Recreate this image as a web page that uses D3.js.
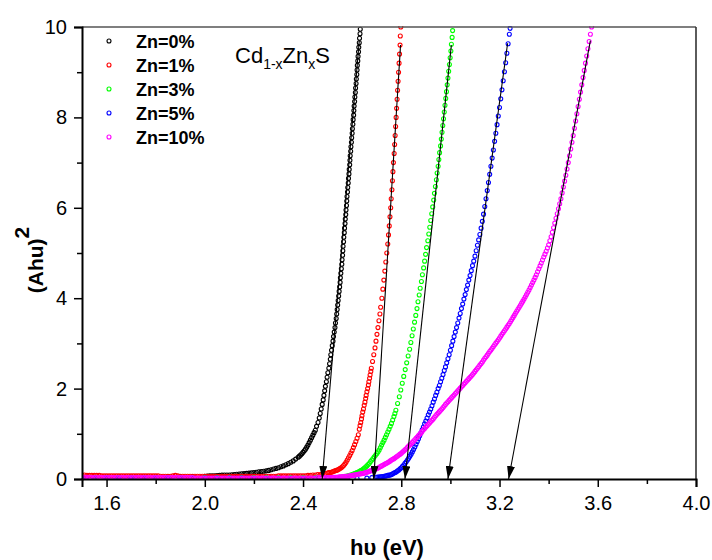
<!DOCTYPE html>
<html>
<head>
<meta charset="utf-8">
<script src="https://cdn.jsdelivr.net/npm/d3@7"></script>
<style>
  html, body { margin: 0; padding: 0; background: #fff; }
  svg { display: block; }
  text { font-family: "Liberation Sans", Arial, sans-serif; }
</style>
</head>
<body>
<svg id="chart" width="712" height="560"></svg>
<script>
// Tauc plot of Cd(1-x)Zn(x)S films: (A h nu)^2 against photon energy h nu (eV)
const seriesNames = ["Zn=0%", "Zn=1%", "Zn=3%", "Zn=5%", "Zn=10%"];
const seriesColors = ["#000000", "#ff0000", "#00ff00", "#0000ff", "#ff00ff"];

const xMajorTicks = [1.6, 2.0, 2.4, 2.8, 3.2, 3.6, 4.0];
const xMinorTicks = [1.8, 2.2, 2.6, 3.0, 3.4, 3.8];
const yMajorTicks = [0, 2, 4, 6, 8, 10];
const yMinorTicks = [1, 3, 5, 7, 9];

// [h nu (eV), (A h nu)^2]
const zn0 = [[1.50,.04],[1.55,.04],[1.60,.04],[1.65,.04],[1.70,.04],[1.75,.04],[1.80,.04],[1.85,.05],[1.90,.05],[1.95,.05],
[2.00,.06],[2.01,.065],[2.02,.07],[2.03,.07],[2.04,.07],[2.05,.075],[2.06,.08],[2.07,.085],[2.08,.09],[2.09,.09],[2.10,.09],
[2.11,.095],[2.12,.10],[2.13,.105],[2.14,.11],[2.15,.115],[2.16,.12],[2.17,.125],[2.18,.13],[2.19,.135],[2.20,.14],
[2.21,.15],[2.22,.16],[2.23,.165],[2.24,.17],[2.25,.18],[2.26,.19],[2.27,.205],[2.28,.22],[2.29,.235],[2.30,.25],
[2.31,.27],[2.32,.29],[2.33,.315],[2.34,.34],[2.35,.37],[2.36,.40],[2.37,.44],[2.38,.48],[2.385,.505],[2.39,.53],
[2.395,.56],[2.40,.59],[2.405,.625],[2.41,.66],[2.415,.705],[2.42,.75],[2.425,.805],[2.43,.86],[2.435,.915],[2.44,.97],
[2.445,1.025],[2.45,1.08],[2.455,1.165],[2.461,1.25],[2.466,1.35],[2.470,1.45],[2.474,1.55],[2.478,1.65],
[2.482,1.75],[2.485,1.85],[2.488,1.95],[2.491,2.05],[2.495,2.15],[2.498,2.25],[2.501,2.35],[2.505,2.45],[2.508,2.55],
[2.511,2.65],[2.513,2.75],[2.516,2.85],[2.519,2.95],[2.522,3.05],[2.524,3.15],[2.527,3.25],[2.530,3.35],[2.532,3.45],
[2.535,3.55],[2.537,3.65],[2.539,3.75],[2.541,3.85],[2.543,3.95],[2.545,4.05],[2.547,4.15],[2.549,4.25],[2.551,4.35],
[2.552,4.45],[2.554,4.55],[2.556,4.65],[2.558,4.75],[2.559,4.85],[2.561,4.95],[2.562,5.05],[2.563,5.15],[2.565,5.25],
[2.566,5.35],[2.568,5.45],[2.569,5.55],[2.571,5.65],[2.572,5.75],[2.574,5.85],[2.575,5.95],[2.577,6.05],[2.578,6.15],
[2.579,6.25],[2.581,6.35],[2.582,6.45],[2.584,6.55],[2.585,6.65],[2.587,6.75],[2.588,6.85],[2.590,6.95],[2.591,7.05],
[2.592,7.15],[2.594,7.25],[2.595,7.35],[2.597,7.45],[2.598,7.55],[2.600,7.65],[2.601,7.75],[2.603,7.85],[2.604,7.95],
[2.606,8.05],[2.607,8.15],[2.608,8.25],[2.610,8.35],[2.611,8.45],[2.613,8.55],[2.614,8.65],[2.616,8.75],[2.617,8.85],
[2.619,8.95],[2.620,9.05],[2.621,9.15],[2.623,9.25],[2.624,9.35],[2.626,9.45],[2.627,9.55],[2.629,9.65],[2.630,9.75],
[2.632,9.85],[2.633,9.95]];

const zn1 = [[1.50,.09],[1.51,.09],[1.52,.08],[1.53,.08],[1.54,.08],[1.55,.08],[1.56,.08],[1.57,.08],[1.58,.07],[1.59,.07],
[1.60,.07],[1.61,.07],[1.62,.07],[1.63,.07],[1.64,.07],[1.65,.07],[1.66,.07],[1.67,.07],[1.68,.07],[1.69,.07],[1.70,.07],
[1.71,.07],[1.72,.07],[1.73,.07],[1.74,.07],[1.75,.07],[1.76,.07],[1.77,.07],[1.78,.07],[1.79,.07],[1.80,.07],[1.81,.07],
[1.82,.06],[1.83,.06],[1.84,.06],[1.85,.06],[1.86,.06],[1.87,.07],[1.88,.08],[1.89,.07],[1.90,.06],[1.91,.06],[1.92,.06],
[1.93,.06],[1.94,.06],[1.95,.06],[1.96,.06],[1.97,.06],[1.98,.06],[1.99,.06],[2.00,.06],[2.01,.06],[2.02,.06],[2.03,.06],
[2.04,.06],[2.05,.06],[2.06,.06],[2.07,.06],[2.08,.06],[2.09,.06],[2.10,.06],[2.11,.06],[2.12,.06],[2.13,.06],[2.14,.06],
[2.15,.06],[2.16,.06],[2.17,.06],[2.18,.06],[2.19,.06],[2.20,.06],[2.21,.06],[2.22,.06],[2.23,.06],[2.24,.06],[2.25,.06],
[2.26,.06],[2.27,.06],[2.28,.06],[2.29,.06],[2.30,.07],[2.31,.07],[2.32,.07],[2.33,.07],[2.34,.07],[2.35,.07],[2.36,.07],
[2.37,.07],[2.38,.07],[2.39,.07],[2.40,.07],[2.41,.07],[2.42,.08],[2.43,.08],[2.44,.09],[2.45,.09],[2.46,.10],[2.47,.10],
[2.48,.11],[2.49,.12],[2.50,.13],[2.505,.14],[2.51,.145],[2.515,.15],[2.52,.16],[2.525,.17],[2.53,.18],[2.535,.19],
[2.54,.20],[2.545,.215],[2.55,.23],[2.555,.25],[2.56,.27],[2.565,.30],[2.57,.33],[2.575,.37],[2.58,.42],[2.585,.47],
[2.59,.52],[2.595,.575],[2.60,.63],[2.605,.695],[2.61,.76],[2.615,.83],[2.62,.90],[2.625,.98],[2.629,1.10],[2.632,1.18],
[2.635,1.25],[2.638,1.33],[2.640,1.40],[2.643,1.48],[2.646,1.55],[2.649,1.63],[2.652,1.70],[2.655,1.78],[2.657,1.85],
[2.660,1.93],[2.663,2.00],[2.666,2.08],[2.668,2.15],[2.671,2.23],[2.673,2.30],[2.676,2.38],[2.678,2.45],[2.683,2.60],
[2.688,2.75],[2.693,2.90],[2.697,3.05],[2.701,3.20],[2.705,3.35],[2.709,3.50],[2.713,3.65],[2.716,3.80],[2.721,4.00],
[2.725,4.20],[2.729,4.40],[2.733,4.60],[2.737,4.80],[2.741,5.00],[2.745,5.20],[2.748,5.40],[2.751,5.60],[2.754,5.80],
[2.757,6.00],[2.759,6.20],[2.762,6.40],[2.764,6.60],[2.766,6.80],[2.768,7.00],[2.771,7.20],[2.773,7.40],[2.775,7.60],
[2.777,7.80],[2.779,8.00],[2.781,8.20],[2.783,8.40],[2.785,8.60],[2.787,8.80],[2.789,9.00],[2.791,9.20],[2.793,9.40],
[2.795,9.60],[2.796,9.80],[2.798,10.0]];

const zn3 = [[1.50,.03],[1.55,.03],[1.60,.03],[1.65,.03],[1.70,.03],[1.75,.03],[1.80,.03],[1.85,.03],[1.90,.03],[1.95,.03],
[2.00,.03],[2.05,.03],[2.10,.03],[2.15,.03],[2.20,.03],[2.25,.03],[2.30,.03],[2.35,.03],[2.40,.03],[2.45,.03],[2.50,.03],
[2.55,.04],[2.555,.04],[2.56,.045],[2.565,.05],[2.57,.05],[2.575,.06],[2.58,.065],[2.585,.07],[2.59,.08],[2.595,.09],
[2.60,.10],[2.605,.11],[2.61,.12],[2.615,.13],[2.62,.14],[2.625,.155],[2.63,.17],[2.635,.185],[2.64,.20],[2.645,.22],
[2.65,.24],[2.655,.265],[2.66,.29],[2.665,.32],[2.67,.35],[2.675,.385],[2.68,.42],[2.685,.455],[2.69,.49],[2.695,.525],
[2.70,.56],[2.705,.60],[2.71,.64],[2.715,.695],[2.72,.75],[2.725,.805],[2.73,.86],[2.735,.92],[2.74,.98],[2.745,1.04],
[2.75,1.10],[2.755,1.165],[2.76,1.23],[2.765,1.305],[2.77,1.38],[2.774,1.45],[2.778,1.52],[2.785,1.67],[2.792,1.82],
[2.798,1.97],[2.804,2.12],[2.810,2.27],[2.816,2.42],[2.822,2.57],[2.828,2.72],[2.834,2.87],[2.839,3.02],[2.844,3.17],
[2.849,3.32],[2.854,3.47],[2.859,3.62],[2.864,3.77],[2.868,3.92],[2.873,4.07],[2.877,4.22],[2.882,4.37],[2.886,4.52],
[2.891,4.67],[2.895,4.82],[2.899,4.97],[2.903,5.12],[2.908,5.27],[2.912,5.42],[2.916,5.57],[2.920,5.72],[2.924,5.87],
[2.928,6.02],[2.932,6.17],[2.935,6.32],[2.939,6.47],[2.943,6.62],[2.946,6.77],[2.950,6.92],[2.953,7.07],[2.956,7.22],
[2.960,7.37],[2.963,7.52],[2.966,7.67],[2.969,7.82],[2.972,7.97],[2.975,8.12],[2.978,8.27],[2.981,8.42],[2.984,8.57],
[2.987,8.72],[2.990,8.87],[2.993,9.02],[2.996,9.17],[2.999,9.32],[3.002,9.47],[3.004,9.62],[3.007,9.77],[3.009,9.92]];

const zn5 = [[1.50,.02],[1.55,.02],[1.60,.02],[1.65,.02],[1.70,.02],[1.75,.02],[1.80,.02],[1.85,.02],[1.90,.02],[1.95,.02],
[2.00,.02],[2.05,.02],[2.10,.02],[2.15,.02],[2.20,.01],[2.25,.01],[2.30,.01],[2.35,.01],[2.40,.01],[2.45,.01],[2.50,.01],
[2.55,.01],[2.58,.01],[2.62,.01],[2.66,.02],[2.68,.03],[2.70,.04],[2.705,.045],[2.71,.045],[2.715,.05],[2.72,.05],
[2.725,.055],[2.73,.06],[2.735,.065],[2.74,.07],[2.745,.08],[2.75,.085],[2.755,.09],[2.76,.10],[2.765,.115],[2.77,.13],
[2.775,.145],[2.78,.16],[2.785,.18],[2.79,.20],[2.795,.225],[2.80,.25],[2.805,.28],[2.81,.31],[2.815,.345],[2.82,.38],
[2.825,.42],[2.83,.46],[2.835,.505],[2.84,.55],[2.845,.60],[2.85,.65],[2.855,.71],[2.86,.77],[2.865,.83],[2.87,.89],
[2.875,.955],[2.88,1.02],[2.885,1.09],[2.89,1.15],[2.895,1.22],[2.90,1.28],[2.905,1.35],[2.91,1.42],[2.915,1.48],
[2.92,1.55],[2.925,1.62],[2.93,1.70],[2.935,1.77],[2.94,1.85],[2.945,1.92],[2.95,2.00],[2.955,2.07],[2.96,2.15],
[2.965,2.23],[2.97,2.31],[2.975,2.40],[2.98,2.48],[2.985,2.57],[2.99,2.66],[2.995,2.75],[3.00,2.85],[3.005,2.95],
[3.01,3.05],[3.015,3.15],[3.02,3.25],[3.025,3.35],[3.03,3.45],[3.035,3.56],[3.04,3.66],[3.045,3.77],[3.05,3.87],
[3.055,3.98],[3.06,4.08],[3.065,4.19],[3.07,4.29],[3.075,4.40],[3.08,4.50],[3.085,4.61],[3.09,4.72],[3.095,4.82],
[3.10,4.93],[3.105,5.05],[3.11,5.17],[3.115,5.29],[3.12,5.41],[3.125,5.55],[3.13,5.70],[3.135,5.86],[3.14,6.03],
[3.145,6.20],[3.15,6.38],[3.155,6.56],[3.16,6.74],[3.165,6.92],[3.17,7.10],[3.175,7.28],[3.18,7.47],[3.185,7.65],
[3.19,7.84],[3.195,8.03],[3.20,8.22],[3.205,8.41],[3.21,8.61],[3.215,8.81],[3.22,9.01],[3.225,9.21],[3.23,9.42],
[3.235,9.63],[3.24,9.84],[3.243,9.97]];

const zn10 = [[1.50,.04],[1.51,.04],[1.52,.04],[1.53,.03],[1.54,.03],[1.55,.03],[1.56,.03],[1.57,.03],[1.58,.03],[1.59,.03],
[1.60,.03],[1.61,.03],[1.62,.03],[1.63,.03],[1.64,.03],[1.65,.03],[1.66,.03],[1.67,.03],[1.68,.03],[1.69,.03],[1.70,.03],
[1.71,.03],[1.72,.03],[1.73,.03],[1.74,.03],[1.75,.03],[1.76,.03],[1.77,.03],[1.78,.03],[1.79,.03],[1.80,.03],[1.81,.03],
[1.82,.03],[1.83,.03],[1.84,.03],[1.85,.03],[1.86,.03],[1.87,.03],[1.88,.03],[1.89,.03],[1.90,.03],[1.91,.03],[1.92,.03],
[1.93,.03],[1.94,.03],[1.95,.03],[1.96,.02],[1.97,.02],[1.98,.02],[1.99,.02],[2.00,.02],[2.01,.02],[2.02,.02],[2.03,.02],
[2.04,.02],[2.05,.02],[2.06,.02],[2.07,.02],[2.08,.02],[2.09,.02],[2.10,.02],[2.11,.02],[2.12,.02],[2.13,.02],[2.14,.02],
[2.15,.02],[2.16,.02],[2.17,.02],[2.18,.02],[2.19,.02],[2.20,.02],[2.21,.02],[2.22,.02],[2.23,.02],[2.24,.02],[2.25,.02],
[2.26,.02],[2.27,.02],[2.28,.02],[2.29,.02],[2.30,.02],[2.31,.02],[2.32,.02],[2.33,.02],[2.34,.02],[2.35,.02],[2.36,.02],
[2.37,.02],[2.38,.02],[2.39,.02],[2.40,.02],[2.41,.02],[2.42,.02],[2.43,.02],[2.44,.02],[2.45,.02],[2.46,.03],[2.47,.03],
[2.48,.03],[2.49,.03],[2.50,.03],[2.505,.03],[2.51,.03],[2.515,.03],[2.52,.03],[2.525,.035],[2.53,.04],[2.535,.04],
[2.54,.04],[2.545,.045],[2.55,.05],[2.555,.05],[2.56,.05],[2.565,.055],[2.57,.06],[2.575,.06],[2.58,.06],[2.585,.065],
[2.59,.07],[2.595,.075],[2.60,.08],[2.605,.085],[2.61,.09],[2.615,.095],[2.62,.10],[2.625,.105],[2.63,.11],[2.635,.115],
[2.64,.12],[2.645,.125],[2.65,.13],[2.655,.14],[2.66,.15],[2.665,.16],[2.67,.17],[2.675,.18],[2.68,.19],[2.685,.20],
[2.69,.21],[2.695,.22],[2.70,.23],[2.705,.245],[2.71,.26],[2.715,.275],[2.72,.29],[2.725,.305],[2.73,.32],[2.735,.335],
[2.74,.35],[2.745,.365],[2.75,.38],[2.755,.40],[2.76,.42],[2.765,.435],[2.77,.45],[2.775,.47],[2.78,.49],[2.785,.51],
[2.79,.53],[2.795,.55],[2.80,.57],[2.805,.595],[2.81,.62],[2.815,.645],[2.82,.67],[2.825,.70],[2.83,.73],[2.835,.755],
[2.84,.78],[2.845,.81],[2.85,.84],[2.855,.87],[2.86,.90],[2.865,.93],[2.87,.96],[2.875,.99],[2.88,1.02],[2.885,1.055],
[2.89,1.09],[2.895,1.12],[2.90,1.15],[2.905,1.18],[2.91,1.21],[2.915,1.24],[2.92,1.27],[2.925,1.30],[2.93,1.33],
[2.935,1.365],[2.94,1.40],[2.945,1.43],[2.95,1.46],[2.955,1.49],[2.96,1.52],[2.965,1.55],[2.97,1.58],[2.975,1.615],
[2.98,1.65],[2.985,1.68],[2.99,1.71],[2.995,1.74],[3.00,1.77],[3.005,1.80],[3.01,1.83],[3.015,1.86],[3.02,1.89],
[3.025,1.92],[3.03,1.95],[3.035,1.98],[3.04,2.01],[3.045,2.04],[3.05,2.07],[3.055,2.10],[3.06,2.13],[3.065,2.16],
[3.07,2.19],[3.075,2.22],[3.08,2.25],[3.085,2.28],[3.09,2.31],[3.095,2.345],[3.10,2.38],[3.105,2.415],[3.11,2.45],
[3.115,2.485],[3.12,2.52],[3.125,2.555],[3.13,2.59],[3.135,2.63],[3.14,2.67],[3.145,2.705],[3.15,2.74],[3.155,2.78],
[3.16,2.82],[3.165,2.855],[3.17,2.89],[3.175,2.93],[3.18,2.97],[3.185,3.005],[3.19,3.04],[3.195,3.08],[3.20,3.12],
[3.205,3.16],[3.21,3.20],[3.215,3.24],[3.22,3.28],[3.225,3.32],[3.23,3.36],[3.235,3.40],[3.24,3.44],[3.245,3.485],
[3.25,3.53],[3.255,3.575],[3.26,3.62],[3.265,3.665],[3.27,3.71],[3.275,3.755],[3.28,3.80],[3.285,3.845],[3.29,3.89],
[3.295,3.935],[3.30,3.98],[3.305,4.03],[3.31,4.08],[3.315,4.13],[3.32,4.18],[3.325,4.235],[3.33,4.29],[3.335,4.345],
[3.34,4.40],[3.345,4.46],[3.35,4.52],[3.355,4.585],[3.36,4.65],[3.365,4.715],[3.37,4.78],[3.375,4.845],[3.38,4.91],
[3.385,4.975],[3.39,5.04],[3.395,5.11],[3.40,5.18],[3.405,5.27],[3.41,5.36],[3.415,5.46],[3.42,5.56],[3.425,5.66],
[3.43,5.77],[3.435,5.87],[3.44,5.98],[3.445,6.09],[3.45,6.20],[3.455,6.33],[3.46,6.46],[3.465,6.59],[3.47,6.72],
[3.475,6.86],[3.48,7.00],[3.485,7.15],[3.49,7.30],[3.495,7.45],[3.50,7.60],[3.505,7.76],[3.51,7.92],[3.515,8.08],
[3.52,8.24],[3.525,8.40],[3.53,8.56],[3.535,8.72],[3.54,8.88],[3.545,9.04],[3.55,9.20],[3.555,9.36],[3.56,9.52],
[3.565,9.68],[3.57,9.84],[3.575,10.0]];

// Linear fits extrapolated to the energy axis (band gap intercepts)
const gapIntercepts = [2.478, 2.688, 2.815, 2.990, 3.237];
const fitTopEnergy = [2.629, 2.797, 3.004, 3.233, 3.570];
const fitTopValue = [9.7, 9.6, 9.6, 9.64, 9.7];

const allSeries = [zn0, zn1, zn3, zn5, zn10];

const W = 712, H = 560;
const margin = { left: 82, right: 16, top: 27, bottom: 81 };
const svg = d3.select("#chart");

const x = d3.scaleLinear().domain([1.5, 4.0]).range([margin.left, W - margin.right]);
const y = d3.scaleLinear().domain([0, 10]).range([H - margin.bottom, margin.top]);

const x0 = x.range()[0], x1 = x.range()[1];
const y0 = y.range()[0], y1 = y.range()[1];

const defs = svg.append("defs");
defs.append("clipPath").attr("id", "plotClip")
  .append("rect").attr("x", x0).attr("y", y1 - 1).attr("width", x1 - x0).attr("height", y0 - y1 + 1);

defs.append("marker")
  .attr("id", "arrowHead")
  .attr("viewBox", "0 0 13 8")
  .attr("refX", 13).attr("refY", 4)
  .attr("markerWidth", 13).attr("markerHeight", 8)
  .attr("markerUnits", "userSpaceOnUse")
  .attr("orient", "auto")
  .append("path").attr("d", "M0,0 L13,4 L0,8 Z").attr("fill", "#000");

// data points
const plot = svg.append("g").attr("clip-path", "url(#plotClip)");
allSeries.forEach((pts, i) => {
  plot.append("g").selectAll("circle").data(pts).join("circle")
    .attr("cx", d => x(d[0]))
    .attr("cy", d => y(d[1]))
    .attr("r", 2)
    .attr("fill", "none")
    .attr("stroke", seriesColors[i])
    .attr("stroke-width", 1.1);
});

// tangent lines ending in arrows at the intercepts
const fits = svg.append("g");
gapIntercepts.forEach((e0, i) => {
  fits.append("line")
    .attr("x1", x(fitTopEnergy[i])).attr("y1", y(fitTopValue[i]))
    .attr("x2", x(e0)).attr("y2", y(0))
    .attr("stroke", "#000").attr("stroke-width", 1.1)
    .attr("marker-end", "url(#arrowHead)");
});

// frame: top and right borders
svg.append("line").attr("x1", x0).attr("x2", x1).attr("y1", y1).attr("y2", y1)
  .attr("stroke", "#555").attr("stroke-width", 1.6);
svg.append("line").attr("x1", x1).attr("x2", x1).attr("y1", y1).attr("y2", y0)
  .attr("stroke", "#333").attr("stroke-width", 1.6);

// axes
const fontTick = 20;
svg.append("g").attr("transform", `translate(0,${y0})`)
  .call(d3.axisBottom(x).tickValues(xMajorTicks).tickFormat(d3.format(".1f")).tickSize(8).tickPadding(9));
svg.append("g").attr("transform", `translate(0,${y0})`)
  .call(d3.axisBottom(x).tickValues(xMinorTicks).tickFormat("").tickSize(5))
  .select(".domain").remove();
svg.append("g").attr("transform", `translate(${x0},0)`)
  .call(d3.axisLeft(y).tickValues(yMajorTicks).tickFormat(d3.format("d")).tickSize(8).tickPadding(7));
svg.append("g").attr("transform", `translate(${x0},0)`)
  .call(d3.axisLeft(y).tickValues(yMinorTicks).tickFormat("").tickSize(5))
  .select(".domain").remove();

svg.selectAll(".domain").attr("stroke", "#000").attr("stroke-width", 2);
svg.selectAll(".tick line").attr("stroke", "#000").attr("stroke-width", 1.5);
svg.selectAll(".tick text")
  .attr("font-family", "'Liberation Sans', Arial, sans-serif")
  .attr("font-size", fontTick).attr("fill", "#000");

// axis titles
svg.append("text")
  .attr("x", (x0 + x1) / 2 - 2).attr("y", 555)
  .attr("text-anchor", "middle")
  .attr("font-size", 22).attr("font-weight", "bold")
  .text("h\u03c5 (eV)");

const yTitle = svg.append("text")
  .attr("transform", "translate(43,260) rotate(-90)")
  .attr("text-anchor", "middle")
  .attr("font-size", 21).attr("font-weight", "bold");
yTitle.append("tspan").text("(Ahu)");
yTitle.append("tspan").attr("dy", -14).text("2");

// legend
const legend = svg.append("g");
seriesNames.forEach((name, i) => {
  const ly = 41 + i * 24;
  legend.append("circle").attr("cx", 109).attr("cy", ly).attr("r", 2)
    .attr("fill", "none").attr("stroke", seriesColors[i]).attr("stroke-width", 1.1);
  legend.append("text").attr("x", 136).attr("y", ly + 1).attr("dy", "0.35em")
    .attr("font-size", 18).attr("font-weight", "bold").text(name);
});

// compound label
const comp = svg.append("text").attr("x", 235).attr("y", 63).attr("font-size", 22);
comp.append("tspan").text("Cd");
comp.append("tspan").attr("font-size", 14).attr("dy", 6).text("1-x");
comp.append("tspan").attr("dy", -6).text("Zn");
comp.append("tspan").attr("font-size", 14).attr("dy", 6).text("x");
comp.append("tspan").attr("dy", -6).text("S");
</script>
</body>
</html>
